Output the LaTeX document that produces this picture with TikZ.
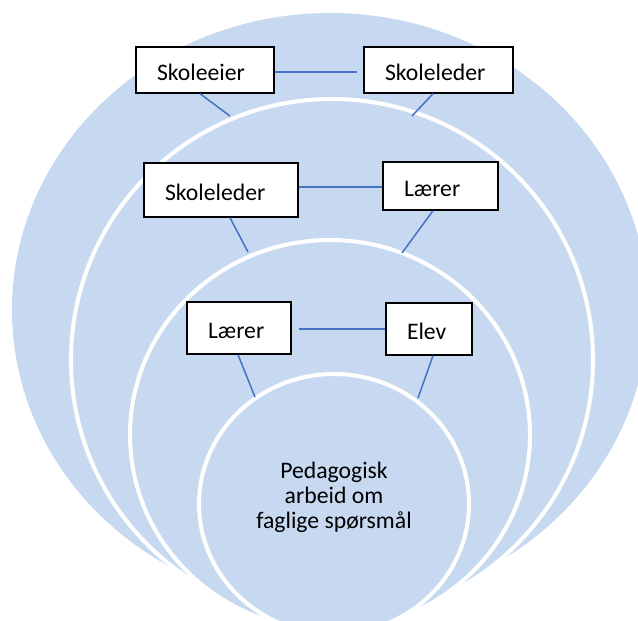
\documentclass[tikz,border=0pt]{standalone}
\usepackage{fontspec}
\setmainfont{Carlito}
\definecolor{venn}{RGB}{199,217,241}
\definecolor{link}{RGB}{68,114,196}
\begin{document}
\begin{tikzpicture}[x=1pt,y=-1pt,
  ring/.style={fill=venn, draw=white, line width=4pt},
  box/.style={draw=black, line width=1.4pt, fill=white,
    font=\fontsize{23.7}{28}\selectfont, align=left,
    inner xsep=21pt, inner ysep=0pt, text height=20pt, text depth=0pt},
  link/.style={draw=link, line width=1.5pt}]
\useasboundingbox (0,0) rectangle (638,621);
\begin{scope}
\clip (0,0) rectangle (638,621);
\fill[venn] (330,310) ellipse [x radius=318pt, y radius=297pt];
\filldraw[ring] (332,360) circle [radius=261pt];
\filldraw[ring] (330,435) ellipse [x radius=200pt, y radius=195pt];
\filldraw[ring] (334,504) ellipse [x radius=135pt, y radius=130pt];
\end{scope}

% boxes
\node[box, text width=96pt,  minimum height=46pt] (eier)    at (205,70)    {Skoleeier};
\node[box, text width=107pt, minimum height=46pt] (ledera)  at (438.5,70)  {Skoleleder};
\node[box, text width=112pt, minimum height=54pt] (lederb)  at (221,190)   {Skoleleder};
\node[box, text width=73pt,  minimum height=48pt] (laerera) at (440.5,186) {Lærer};
\node[box, text width=62pt,  minimum height=52pt] (laererb) at (239,328)   {Lærer};
\node[box, text width=44pt,  minimum height=52pt] (elev)    at (429,329)   {Elev};

% free ends on the rings
\coordinate (p1) at (230,116);
\coordinate (p2) at (412,116);
\coordinate (p3) at (248,252);
\coordinate (p4) at (402,253);
\coordinate (p5) at (255,397);
\coordinate (p6) at (418,398);

% connectors
\draw[link] ([yshift=-2pt]eier.east) -- ([xshift=-6pt,yshift=-2pt]ledera.west);
\draw[link] ([xshift=-5pt]eier.south) -- (p1);
\draw[link] ([xshift=-5.5pt]ledera.south) -- (p2);
\draw[link] ([yshift=3pt]lederb.east) -- ([yshift=-1pt]laerera.west);
\draw[link] ([xshift=9pt]lederb.south) -- (p3);
\draw[link] ([xshift=-7.5pt]laerera.south) -- (p4);
\draw[link] ([xshift=7pt,yshift=-1pt]laererb.east) -- (elev.west);
\draw[link] ([xshift=-1pt]laererb.south) -- (p5);
\draw[link] ([xshift=4pt]elev.south) -- (p6);

% centre text
\node[font=\fontsize{23.7}{25}\selectfont, align=center, inner sep=0pt] (core) at (334,497)
  {Pedagogisk\\arbeid om\\faglige spørsmål};
\end{tikzpicture}
\end{document}
